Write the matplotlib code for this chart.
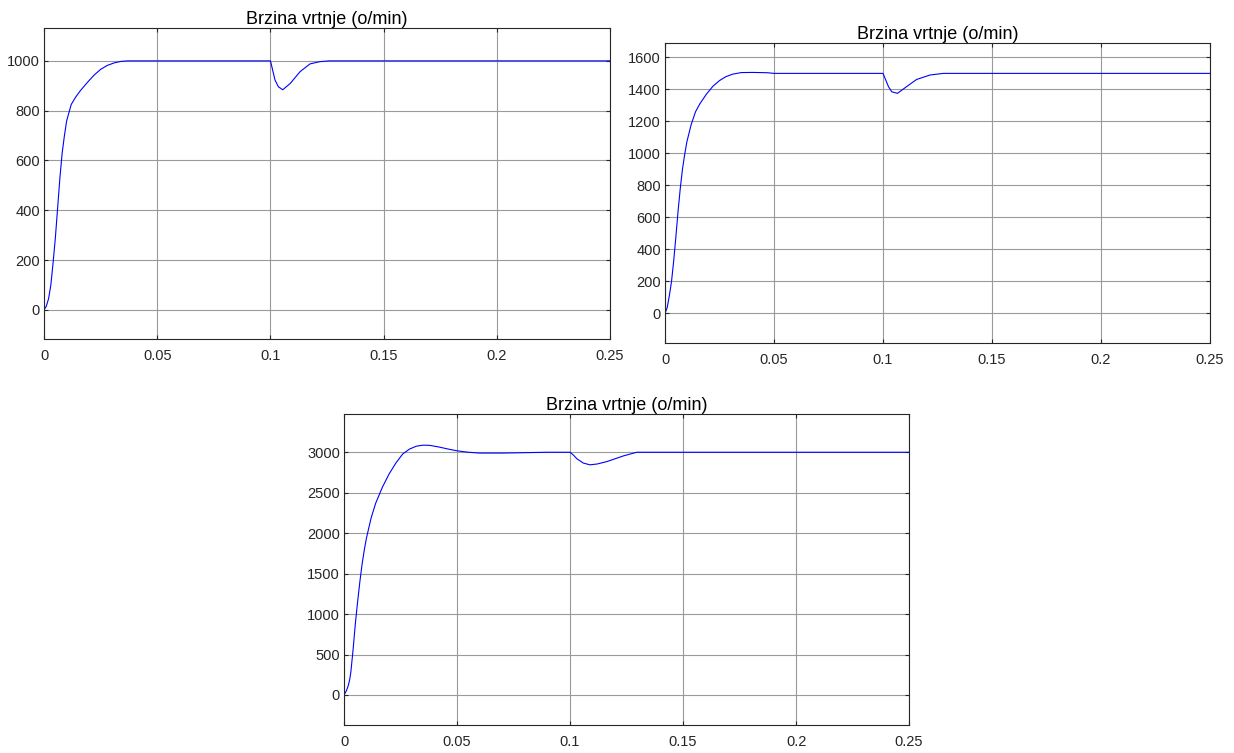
import numpy as np
import matplotlib
matplotlib.use('Agg')
import matplotlib.pyplot as plt

plt.rcParams['font.family'] = ['Liberation Sans', 'DejaVu Sans']

title = 'Brzina vrtnje (o/min)'

# speed reference 1000 o/min
t1 = [0, 0.001, 0.002, 0.003, 0.004, 0.005, 0.006, 0.007, 0.008, 0.009, 0.010,
      0.012, 0.014, 0.016, 0.019, 0.022, 0.025, 0.028, 0.031, 0.034, 0.037,
      0.100, 0.1006, 0.102, 0.1035, 0.1054, 0.1087, 0.1131, 0.1175, 0.1219, 0.126, 0.25]
y1 = [0, 15, 45, 100, 190, 290, 410, 530, 630, 700, 760,
      825, 855, 880, 912, 942, 966, 982, 992, 998, 1000,
      1000, 977, 923, 896, 884, 909, 957, 988, 997, 1000, 1000]

# speed reference 1500 o/min
t2 = [0, 0.001, 0.002, 0.003, 0.004, 0.005, 0.006, 0.007, 0.008, 0.009, 0.010,
      0.012, 0.014, 0.016, 0.019, 0.022, 0.025, 0.028, 0.031, 0.035, 0.040, 0.047, 0.050,
      0.100, 0.1025, 0.104, 0.1066, 0.1108, 0.1154, 0.1216, 0.1277, 0.25]
y2 = [0, 35, 110, 200, 330, 480, 640, 780, 900, 990, 1070,
      1180, 1260, 1310, 1370, 1420, 1455, 1480, 1495, 1505, 1506, 1504, 1500,
      1500, 1417, 1385, 1375, 1417, 1462, 1490, 1500, 1500]

# speed reference 3000 o/min
t3 = [0, 0.001, 0.0015, 0.002, 0.0025, 0.003, 0.004, 0.005, 0.006, 0.007, 0.008, 0.009,
      0.010, 0.012, 0.014, 0.017, 0.020, 0.023, 0.026, 0.029, 0.032, 0.035, 0.038,
      0.042, 0.046, 0.050, 0.055, 0.060, 0.070, 0.080, 0.090, 0.100,
      0.1015, 0.103, 0.1059, 0.1088, 0.112, 0.1162, 0.1236, 0.1295, 0.25]
y3 = [0, 50, 85, 130, 190, 280, 560, 880, 1150, 1400, 1620, 1800,
      1950, 2190, 2370, 2570, 2735, 2870, 2980, 3040, 3075, 3088, 3085,
      3065, 3040, 3018, 3000, 2990, 2990, 2995, 3000, 3000,
      2965, 2920, 2866, 2845, 2855, 2884, 2955, 3000, 3000]

panels = [
    (t1, y1, [0.0357, 0.5498, 0.4587, 0.4130], (-117, 1132), np.arange(0, 1001, 200)),
    (t2, y2, [0.5389, 0.5445, 0.4417, 0.3984], (-186, 1690), np.arange(0, 1601, 200)),
    (t3, y3, [0.2788, 0.0372, 0.4579, 0.4130], (-371, 3473), np.arange(0, 3001, 500)),
]

fig = plt.figure(figsize=(12.34, 7.53), dpi=100)

for t, y, pos, ylim, yticks in panels:
    ax = fig.add_axes(pos)
    ax.plot(t, y, color='#0000ff', lw=0.8)
    ax.set_xlim(0, 0.25)
    ax.set_ylim(*ylim)
    ax.set_xticks([0, 0.05, 0.1, 0.15, 0.2, 0.25])
    ax.set_xticklabels(['0', '0.05', '0.1', '0.15', '0.2', '0.25'])
    ax.set_yticks(yticks)
    ax.grid(True, color='#9a9a9a', lw=0.8)
    ax.set_axisbelow(True)
    ax.tick_params(direction='in', length=3, width=0.8, colors='#262626',
                   labelsize=10.5, top=True, right=True)
    ax.tick_params(axis='x', pad=7)
    ax.tick_params(axis='y', pad=3)
    for s in ax.spines.values():
        s.set_color('#262626')
        s.set_linewidth(0.8)
    ax.set_title(title, fontsize=13, color='#000000', pad=3)

plt.savefig('out.png', dpi=100)
